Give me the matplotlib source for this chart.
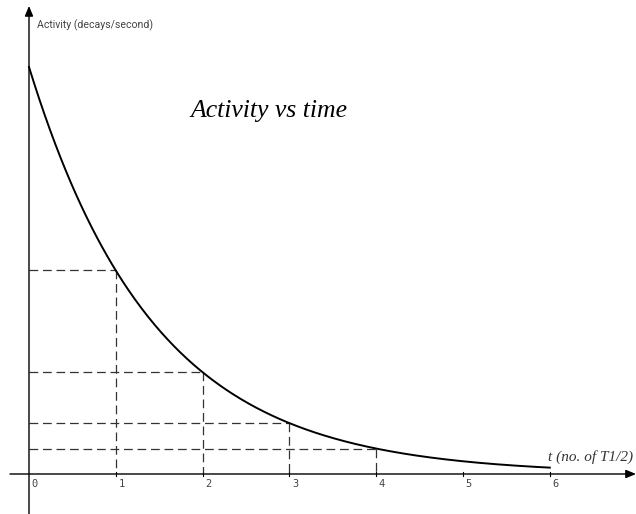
import numpy as np
import matplotlib
matplotlib.use("Agg")
import matplotlib.pyplot as plt

# data
half_lives = [0, 1, 2, 3, 4, 5, 6]
tick_labels = ["0", "1", "2", "3", "4", "5", "6"]
marked_points = [1, 2, 3, 4]
t_curve = np.linspace(0, 6, 400)
activity = 0.5 ** t_curve

fig = plt.figure(figsize=(6.36, 5.14), dpi=100)
ax = fig.add_axes([0, 0, 1, 1])
ax.set_xlim(-0.334, 6.993)
ax.set_ylim(-0.0983, 1.1646)
ax.axis("off")

# axes lines
ax.annotate("", xy=(6.993, 0.0), xytext=(-0.219, 0.0),
            arrowprops=dict(arrowstyle="-|>,head_length=0.6,head_width=0.25", color="black", lw=1.0,
                            shrinkA=0, shrinkB=0))
ax.annotate("", xy=(0, 1.150), xytext=(0, -0.0983),
            arrowprops=dict(arrowstyle="-|>,head_length=0.6,head_width=0.25", color="black", lw=1.0,
                            shrinkA=0, shrinkB=0))

# ticks
for t, lab in zip(half_lives, tick_labels):
    if t > 0:
        ax.plot([t, t], [-0.006, 0.006], color="black", lw=0.8)
    ax.text(t + 0.03, -0.013, lab, ha="left", va="top", fontsize=7.5,
            family="DejaVu Sans Mono", color="#444444")

# dashed guides
for t in marked_points:
    v = 0.5 ** t
    ax.plot([0, t], [v, v], color="#333333", lw=0.9, dashes=(7, 3.8))
    ax.plot([t, t], [v, 0], color="#333333", lw=0.9, dashes=(7, 3.8))

# curve
ax.plot(t_curve, activity, color="black", lw=1.4)

# texts
ax.text(0.09, 1.103, "Activity (decays/second)", ha="left", va="center",
        fontsize=7.6, family=["Roboto", "DejaVu Sans"], color="#444444")
ax.text(1.855, 0.893, "Activity vs time", ha="left", va="center",
        fontsize=18.5, family="Liberation Serif", style="italic", color="black")
ax.text(5.98, 0.024, "t (no. of T1/2)", ha="left", va="bottom",
        fontsize=11, family="Liberation Serif", style="italic", color="#333333")

fig.savefig("out.png", dpi=100)
